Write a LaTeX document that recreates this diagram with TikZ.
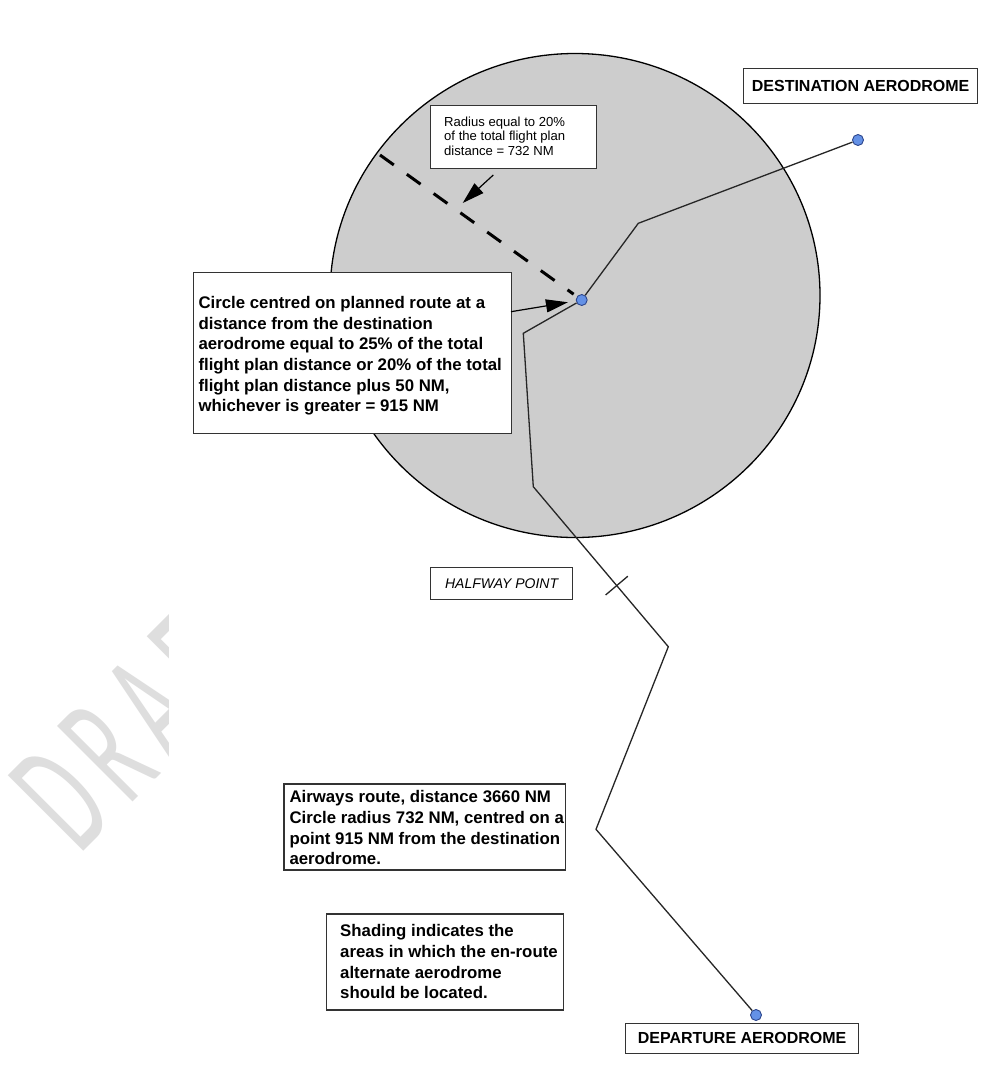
\documentclass[tikz,border=0pt]{standalone}
\usepackage{fontspec}
\setmainfont{Liberation Sans}
\newfontfamily\wmfont[LetterSpace=16]{Carlito}
\usetikzlibrary{arrows.meta,calc}
\definecolor{circfill}{RGB}{205,205,205}
\definecolor{dotblue}{RGB}{100,145,230}
\definecolor{dotedge}{RGB}{45,70,140}
\definecolor{wmgray}{RGB}{222,222,222}
\begin{document}
\begin{tikzpicture}[x=1pt,y=1pt,
  route/.style={draw=black!85, line width=1.3pt},
  boxshape/.style={draw=black!80, fill=white, line width=1.2pt, inner sep=0pt, anchor=north west},
  dotnode/.style={circle, fill=dotblue, draw=dotedge, line width=0.9pt, minimum size=11pt, inner sep=0pt},
  arr/.style={-{Triangle[length=22pt,width=13pt]}, line width=1.2pt, draw=black},
  boldtxt/.style={inner sep=0pt, anchor=base west, align=left, font=\bfseries\fontsize{16.8}{20.7}\selectfont},
  smalltxt/.style={inner sep=0pt, anchor=base west, align=left, font=\fontsize{13.1}{14.2}\selectfont},
  labeltxt/.style={inner sep=0pt, font=\bfseries\fontsize{16}{19}\selectfont}
]
\fill[white] (0,0) rectangle (1004,-1066);
\useasboundingbox (0,0) rectangle (1004,-1066);

% watermark
\begin{scope}
  \clip (0,0) rectangle (168,-1066);
  \node[rotate=45, anchor=base west, inner sep=0pt, text=wmgray,
        font=\wmfont\fontsize{111}{111}\selectfont] (wm) at (79.3,-855.7) {\scalebox{0.8}[1.5]{DRAFT}};
\end{scope}

% shaded circle
\draw[fill=circfill, draw=black, line width=1.3pt] (575,-295.5) ellipse [x radius=245pt, y radius=242pt];

% route points
\node[dotnode] (ddest) at (858,-140) {};
\node[dotnode] (cdot) at (581.7,-300) {};
\node[dotnode] (ddep) at (756,-1015) {};
\coordinate (w5) at (638.3,-223.3);
\coordinate (w4) at (523.3,-333.3);
\coordinate (w3) at (533.3,-486.7);
\coordinate (w2) at (668.3,-646.7);
\coordinate (w1) at (596,-829.3);
\coordinate (rs) at (380,-155);

% radius (dashed)
\draw[line width=3pt, dash pattern=on 17pt off 16pt, shorten >=4pt] (rs) -- (cdot);

% route
\draw[route] (ddest) -- (w5) -- (cdot) -- (w4) -- (w3) -- (w2) -- (w1) -- (ddep);

% halfway tick
\coordinate (hw) at ($(w3)!0.618!(w2)$);
\coordinate (hwa) at ($(hw)!14.5pt!90:(w2)$);
\coordinate (hwb) at ($(hw)!14.5pt!-90:(w2)$);
\draw[route] (hwa) -- (hwb);

% destination / departure labels
\node[boxshape, minimum width=234pt, minimum height=35pt] (destbox) at (743,-68) {};
\node[labeltxt] (desttxt) at (destbox.center) {DESTINATION AERODROME};
\node[boxshape, minimum width=233pt, minimum height=30pt] (depbox) at (625,-1022.5) {};
\node[labeltxt] (deptxt) at (depbox.center) {DEPARTURE AERODROME};

% radius box
\node[boxshape, minimum width=166pt, minimum height=63pt] (radbox) at (430,-105) {};
\node[smalltxt] (radtxt) at (444,-155) {Radius equal to 20\%\\of the total flight plan\\distance = 732 NM};

% centre box
\node[boxshape, minimum width=318.5pt, minimum height=161pt] (cbox) at (192.5,-272) {};
\node[boldtxt] (ctxt) at (198.3,-411.8) {Circle centred on planned route at a\\distance from the destination\\aerodrome equal to 25\% of the total\\flight plan distance or 20\% of the total\\flight plan distance plus 50 NM,\\whichever is greater = 915 NM};

% halfway box
\node[boxshape, minimum width=142pt, minimum height=32pt] (hwbox) at (430,-567) {};
\node[inner sep=0pt, font=\itshape\fontsize{14}{16}\selectfont] (hwtxt) at (hwbox.center) {HALFWAY POINT};

% airways box
\node[boxshape, minimum width=281.7pt, minimum height=86pt] (awbox) at (283.3,-783.3) {};
\node[boldtxt] (awtxt) at (289.3,-864.7) {Airways route, distance 3660 NM\\Circle radius 732 NM, centred on a\\point 915 NM from the destination\\aerodrome.};

% shading box
\node[boxshape, minimum width=237pt, minimum height=96pt] (shbox) at (325.7,-913.3) {};
\node[boldtxt] (shtxt) at (340,-998.8) {Shading indicates the\\areas in which the en-route\\alternate aerodrome\\should be located.};

% arrows
\coordinate (ra1) at (493.3,-175);
\coordinate (ra2) at (462.7,-203);
\draw[arr] (ra1) -- (ra2);
\coordinate (ca1) at (511,-311.7);
\draw[arr, shorten >=8pt] (ca1) -- (cdot);
\end{tikzpicture}
\end{document}
